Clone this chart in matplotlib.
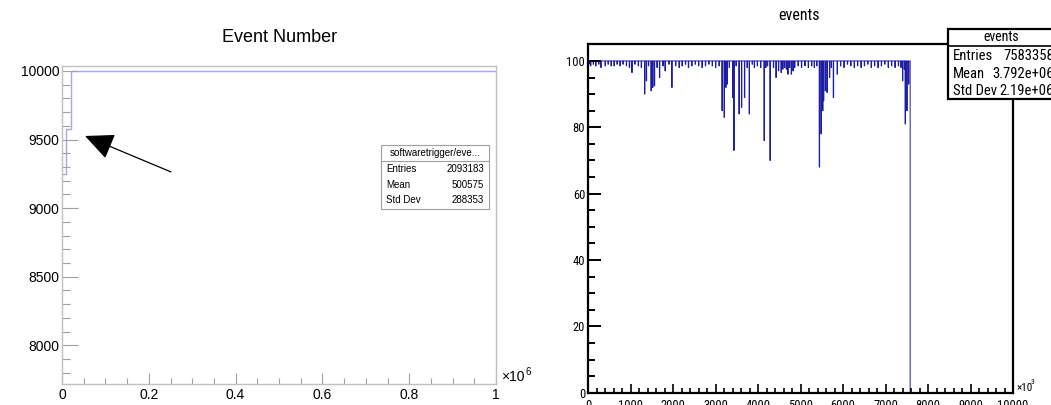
import numpy as np
import matplotlib
matplotlib.use("Agg")
import matplotlib.pyplot as plt
from matplotlib import font_manager
from matplotlib.patches import Rectangle
from matplotlib.lines import Line2D
from matplotlib.ticker import MultipleLocator

# ---- left panel : Event Number (x in units of 10^6) ----
left_edges = np.linspace(0.0, 1.0, 101)
left_first_bins = [9250, 9580]
left_plateau = 10000
left_stats = [("Entries", "2093183"), ("Mean", "500575"), ("Std Dev", "288353")]

# ---- right panel : events (x in units of 10^3) ----
bin_w = 10
last_filled = 7580
full_value = 100
# (position, content) of the bins that sit below the plateau
big_dips_x = [300, 1030, 1330, 1370, 1480, 1520, 1560, 1680, 1810, 1975,
              3150, 3200, 3240, 3270, 3400, 3430, 3550, 3610, 3680, 3790,
              3910, 4140, 4180, 4280, 4420, 4480, 4540, 4700, 4780,
              5440, 5480, 5520, 5540, 5580, 5620, 5680, 5770, 5860,
              7400, 7460, 7500, 7540]
big_dips_y = [98, 96.5, 90, 94, 91, 92, 92.5, 95, 97, 92,
              85, 83, 92, 93, 89, 73, 84, 86, 89, 84,
              98, 76, 98, 70, 95, 97, 96.5, 96, 96,
              68, 78, 85, 88, 91, 90.5, 95, 89, 96,
              94, 81, 85, 93]
small_dips_x = [20, 60, 120, 180, 250, 400, 470, 540, 610, 680, 750, 820, 900,
                970, 1100, 1180, 1250, 1420, 1620, 1760, 1900, 2060, 2140,
                2210, 2290, 2360, 2440, 2520, 2600, 2680, 2760, 2840, 2920,
                3000, 3080, 3320, 3480, 3740, 3860, 3980, 4060, 4220, 4360,
                4580, 4620, 4660, 4740, 4820, 4860, 4940, 5020, 5100, 5180,
                5260, 5320, 5380, 5720, 5940, 6020, 6100, 6180, 6260, 6340,
                6420, 6500, 6580, 6660, 6740, 6820, 6900, 6980, 7060, 7140,
                7220, 7300, 7360, 7440]
small_dips_y = [99, 98.5, 99, 98.5, 99, 98.5, 99, 98.5, 98.5, 99, 98.5, 99,
                98.5, 98, 99, 98.5, 98, 98.5, 98, 98.5, 99, 98.5, 98,
                98.5, 99, 98, 98.5, 99, 98.5, 98, 98.5, 99, 98.5,
                98, 98.5, 98, 98.5, 98, 99, 98.5, 98, 98.5, 98,
                97.5, 98, 97.5, 98, 97, 98, 98.5, 98, 98.5, 98,
                98.5, 98, 98.5, 98, 98.5, 98, 99, 98.5, 98, 98.5,
                98, 98.5, 99, 98, 98.5, 98, 98.5, 99, 98, 98.5,
                98, 98.5, 98, 97.5]
right_stats = [("Entries", "7583358"), ("Mean", "3.792e+06"), ("Std Dev", "2.19e+06")]

W, H = 1051, 405
def fx(px):
    return px / W
def fy(py):
    return 1 - py / H

plt.rcParams['font.family'] = ['Liberation Sans', 'DejaVu Sans']

# pick a narrow face for the right-hand (squeezed) screenshot if one exists
names = {f.name for f in font_manager.fontManager.ttflist}
narrow = dict(family=['Liberation Sans', 'DejaVu Sans'])
if 'Liberation Sans Narrow' in names:
    narrow = dict(family=['Liberation Sans Narrow', 'DejaVu Sans'])
elif 'Roboto Condensed' in names:
    narrow = dict(family=['Roboto Condensed', 'DejaVu Sans'])
elif any(f.name == 'DejaVu Sans' and 'Condensed' in f.fname
         for f in font_manager.fontManager.ttflist):
    narrow = dict(family=['DejaVu Sans'], stretch='condensed')

fig = plt.figure(figsize=(W / 100, H / 100), dpi=100)

# ================= left panel =================
ax1 = fig.add_axes([fx(62), fy(384), (496 - 62) / W, (384 - 66) / H])
left_counts = np.full(len(left_edges) - 1, float(left_plateau))
left_counts[:len(left_first_bins)] = left_first_bins
ax1.stairs(left_counts, left_edges, baseline=None, color='#a8a8e8', lw=1.0)
ax1.set_xlim(0, 1)
ax1.set_ylim(7718, 10036)
grey = '#a0a0a0'
for s in ax1.spines.values():
    s.set_color('#c0c0c0')
    s.set_linewidth(1.0)
ax1.xaxis.set_major_locator(MultipleLocator(0.2))
ax1.xaxis.set_minor_locator(MultipleLocator(0.05))
ax1.yaxis.set_major_locator(MultipleLocator(500))
ax1.yaxis.set_minor_locator(MultipleLocator(100))
ax1.set_xticks([0, 0.2, 0.4, 0.6, 0.8, 1])
ax1.set_xticklabels(['0', '0.2', '0.4', '0.6', '0.8', '1'])
ax1.tick_params(axis='both', which='both', direction='in', color=grey, labelsize=10)
ax1.tick_params(axis='y', which='major', length=11.5, width=0.8, pad=2)
ax1.tick_params(axis='y', which='minor', length=5.8, width=0.8)
ax1.tick_params(axis='x', which='major', length=8, width=0.8, pad=3)
ax1.tick_params(axis='x', which='minor', length=4.3, width=0.8)

ax1.annotate('', xy=(0.053, 9526), xytext=(0.251, 9264),
             arrowprops=dict(arrowstyle='-|>,head_length=1.2,head_width=0.55',
                             mutation_scale=15, color='black', lw=0.9,
                             shrinkA=0, shrinkB=0))

fig.text(fx(280), fy(38), 'Event Number', ha='center', va='center', fontsize=13)
fig.text(fx(501), fy(377), '×10', ha='left', va='center', fontsize=10)
fig.text(fx(525.5), fy(372), '6', ha='left', va='center', fontsize=7)

# stats box (left)
fig.add_artist(Rectangle((fx(380.7), fy(209)), (489 - 380.7) / W, (209 - 145) / H,
                         transform=fig.transFigure, facecolor='white',
                         edgecolor='#a0a0a0', lw=0.8, zorder=5))
fig.add_artist(Line2D([fx(380.7), fx(489)], [fy(161), fy(161)],
                      transform=fig.transFigure, color='#a0a0a0', lw=0.8, zorder=6))
fig.text(fx(435), fy(153), 'softwaretrigger/eve...', ha='center', va='center',
         fontsize=7, zorder=7)
for i, (lab, val) in enumerate(left_stats):
    yy = fy(169 + 15.7 * i)
    fig.text(fx(386), yy, lab, ha='left', va='center', fontsize=7, zorder=7)
    fig.text(fx(484), yy, val, ha='right', va='center', fontsize=7, zorder=7)

# ================= right panel =================
ax2 = fig.add_axes([fx(588), fy(392.7), (1013 - 588) / W, (392.7 - 43.7) / H])
right_edges = np.arange(0, 10000 + bin_w, bin_w)
right_counts = np.zeros(len(right_edges) - 1)
right_counts[right_edges[:-1] < last_filled] = full_value
for xs, ys in ((small_dips_x, small_dips_y), (big_dips_x, big_dips_y)):
    for x, y in zip(xs, ys):
        right_counts[int(x // bin_w)] = y
ax2.stairs(right_counts, right_edges, baseline=None, color='#1c1ca6', lw=0.7)
ax2.set_xlim(0, 10000)
ax2.set_ylim(0, 105.2)
for s in ax2.spines.values():
    s.set_color('black')
    s.set_linewidth(1.6)
ax2.xaxis.set_major_locator(MultipleLocator(1000))
ax2.xaxis.set_minor_locator(MultipleLocator(200))
ax2.yaxis.set_major_locator(MultipleLocator(20))
ax2.yaxis.set_minor_locator(MultipleLocator(5))
ax2.tick_params(axis='both', which='both', direction='in', color='black')
ax2.tick_params(axis='y', which='major', length=9.4, width=1.4, pad=2)
ax2.tick_params(axis='y', which='minor', length=5, width=1.4)
ax2.tick_params(axis='x', which='major', length=6.5, width=1.2, pad=4.5)
ax2.tick_params(axis='x', which='minor', length=3.6, width=1.2)
for lab in ax2.get_xticklabels() + ax2.get_yticklabels():
    lab.set_fontproperties(font_manager.FontProperties(size=9, **narrow))

fig.text(fx(799), fy(15), 'events', ha='center', va='center', fontsize=11.5, **narrow)
fig.text(fx(1016), fy(388), '×10', ha='left', va='center', fontsize=8, **narrow)
fig.text(fx(1031), fy(382), '3', ha='left', va='center', fontsize=5.5, **narrow)

# stats box (right), runs past the picture edge
fig.add_artist(Rectangle((fx(948), fy(99)), (1080 - 948) / W, (99 - 28.7) / H,
                         transform=fig.transFigure, facecolor='white',
                         edgecolor='black', lw=1.6, zorder=5))
fig.add_artist(Line2D([fx(948), fx(1080)], [fy(45.7), fy(45.7)],
                      transform=fig.transFigure, color='black', lw=1.2, zorder=6))
fig.text(fx(1001), fy(37), 'events', ha='center', va='center', fontsize=10,
         zorder=7, **narrow)
for i, (lab, val) in enumerate(right_stats):
    yy = fy(56 + 17.5 * i)
    fig.text(fx(953), yy, lab, ha='left', va='center', fontsize=10.5, zorder=7, **narrow)
    fig.text(fx(1054), yy, val, ha='right', va='center', fontsize=10.5, zorder=7, **narrow)

fig.savefig('out.png', dpi=100)
